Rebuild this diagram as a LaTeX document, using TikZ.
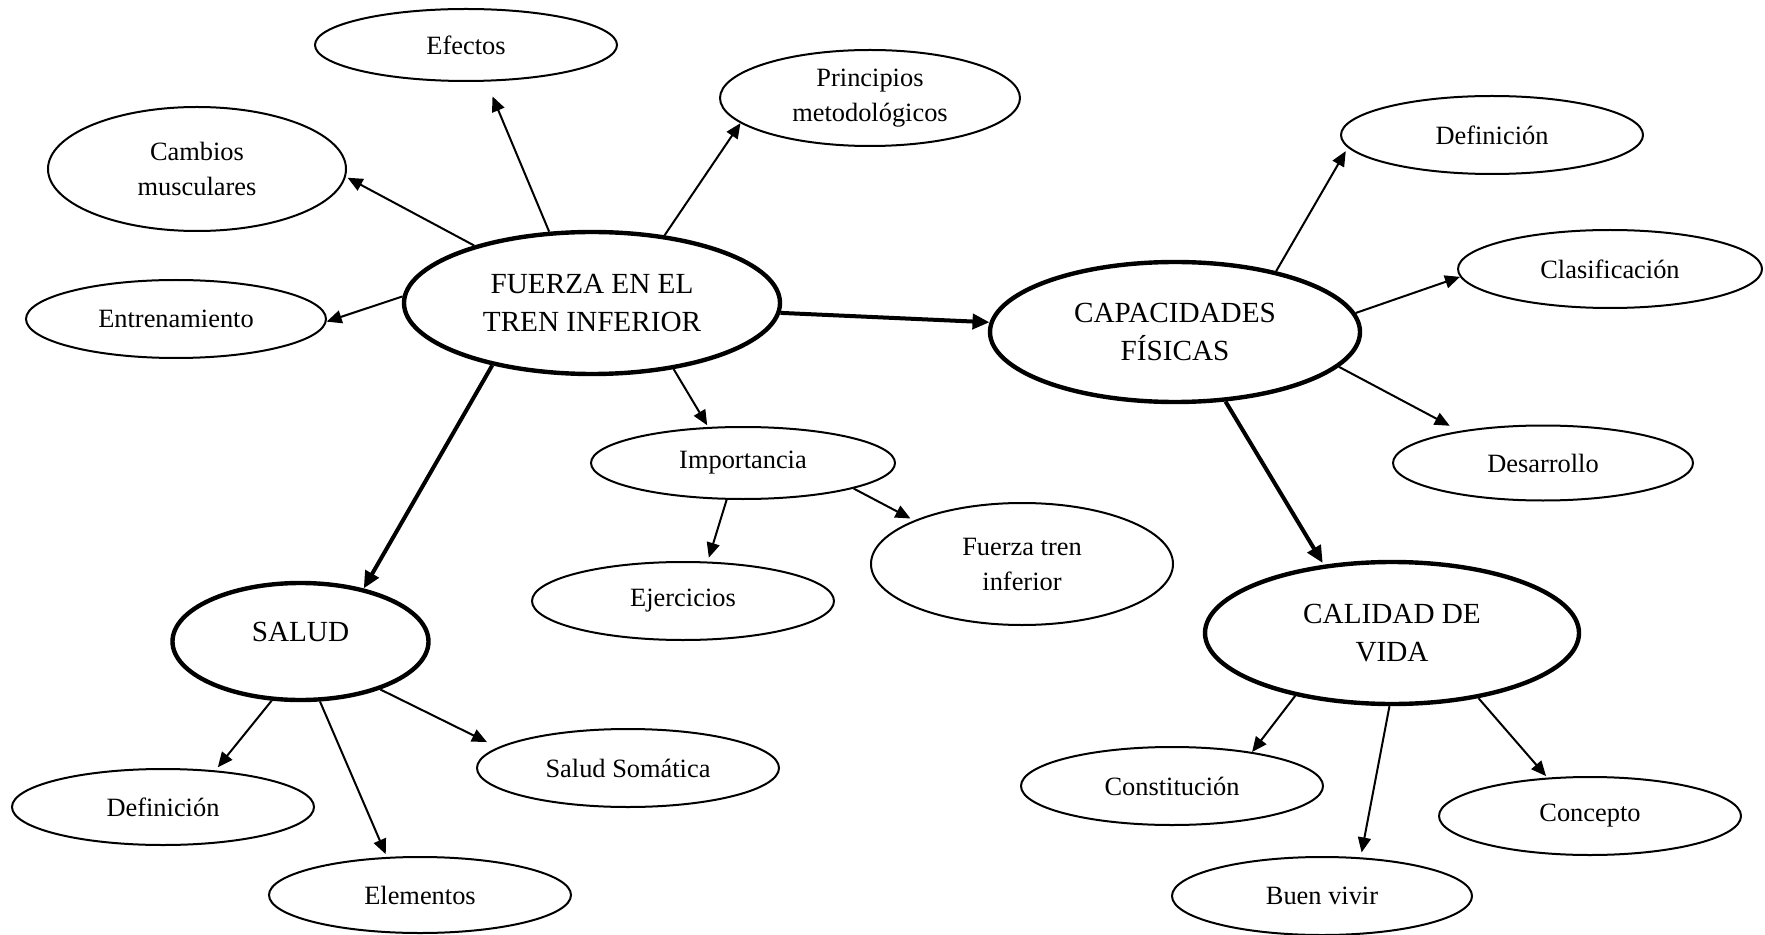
\documentclass[tikz,border=0pt]{standalone}
\usepackage{fontspec}
\setmainfont{Liberation Serif}
\usetikzlibrary{shapes.geometric,arrows.meta}
\tikzset{
  el/.style={ellipse, draw, line width=1pt, inner sep=0pt, align=center,
    font=\fontsize{13.2}{17.5}\selectfont, minimum width=151pt, minimum height=38pt},
  bigel/.style={el, line width=2.2pt, font=\fontsize{14.6}{19.2}\selectfont},
  arr/.style={-{Triangle[length=7.5pt,width=6.5pt]}, line width=1pt},
  thickarr/.style={-{Triangle[length=8.5pt,width=7.5pt]}, line width=2pt},
}
\begin{document}
\begin{tikzpicture}[x=0.5pt,y=-0.5pt]
\useasboundingbox[fill=white] (0,0) rectangle (1765,935);
% central nodes
\node[bigel, minimum width=188pt, minimum height=71pt] (fuerza) at (592,303) {FUERZA EN EL\\TREN INFERIOR};
\node[bigel, minimum width=185pt, minimum height=70pt] (capac) at (1175,332) {CAPACIDADES\\FÍSICAS};
\node[bigel, minimum width=128pt, minimum height=58.5pt] (salud) at (300.5,641.5) {\raisebox{5pt}[\height][\depth]{SALUD}};
\node[bigel, minimum width=187pt, minimum height=71pt] (calidad) at (1392,633) {CALIDAD DE\\VIDA};
% satellites
\node[el, minimum height=36pt] (efectos) at (466,45) {Efectos};
\node[el, minimum width=150pt, minimum height=48pt] (principios) at (870,98) {Principios\\metodológicos};
\node[el, minimum width=149pt, minimum height=62pt] (cambios) at (197,169) {Cambios\\musculares};
\node[el, minimum width=150pt, minimum height=39pt] (entren) at (176,319) {Entrenamiento};
\node[el, minimum height=39pt] (defR) at (1492,135) {Definición};
\node[el, minimum width=152pt, minimum height=39pt] (clasif) at (1610,269) {Clasificación};
\node[el, minimum width=150pt, minimum height=37.5pt] (desarr) at (1543,463) {Desarrollo};
\node[el, minimum width=152pt, minimum height=36pt] (import) at (743,463) {Importancia};
\node[el, minimum height=39pt] (ejerc) at (683,601) {Ejercicios};
\node[el, minimum height=61pt] (fuerzatren) at (1022,564) {Fuerza tren\\inferior};
\node[el] (defL) at (163,807) {Definición};
\node[el, minimum height=39pt] (somatica) at (628,768) {Salud Somática};
\node[el] (elementos) at (420,895) {Elementos};
\node[el, minimum height=39pt] (constit) at (1172,786) {Constitución};
\node[el, minimum height=39pt] (concepto) at (1590,816) {Concepto};
\node[el, minimum width=150pt, minimum height=39pt] (buen) at (1322,896) {Buen vivir};
% connectors from FUERZA
\draw[arr, shorten >=8pt] (fuerza.121) -- (efectos.299.5);
\draw[arr, shorten >=1pt] (fuerza.154) -- (cambios.357.4);
\draw[arr] (fuerza.43) -- (principios.191);
\draw[arr] (fuerza.178) -- (entren.359.2);
\draw[thickarr] (fuerza.357.3) -- (capac.177);
\draw[arr, shorten >=1pt] (fuerza.321.3) -- (import.134);
\draw[thickarr] (fuerza.212.4) -- (salud.40.9);
% Importancia
\draw[arr, shorten >=2pt] (import.246) -- (ejerc.58.2);
\draw[arr, shorten >=2pt] (import.347.3) -- (fuerzatren.158.7);
% CAPACIDADES
\draw[arr, shorten >=2pt] (capac.31) -- (defR.185);
\draw[arr] (capac.6.3) -- (clasif.183.4);
\draw[arr, shorten >=5.5pt] (capac.348.5) -- (desarr.159);
\draw[thickarr, shorten >=1pt] (capac.306.6) -- (calidad.135.4);
% SALUD
\draw[arr, shorten >=2pt] (salud.244.9) -- (defL.35.1);
\draw[arr, shorten >=1.5pt] (salud.288.7) -- (elementos.131);
\draw[arr, shorten >=6pt] (salud.329.6) -- (somatica.171.9);
% CALIDAD
\draw[arr] (calidad.213.7) -- (constit.23);
\draw[arr, shorten >=2.5pt] (calidad.268.4) -- (buen.45.5);
\draw[arr, shorten >=1pt] (calidad.323.3) -- (concepto.138.4);
\end{tikzpicture}
\end{document}
